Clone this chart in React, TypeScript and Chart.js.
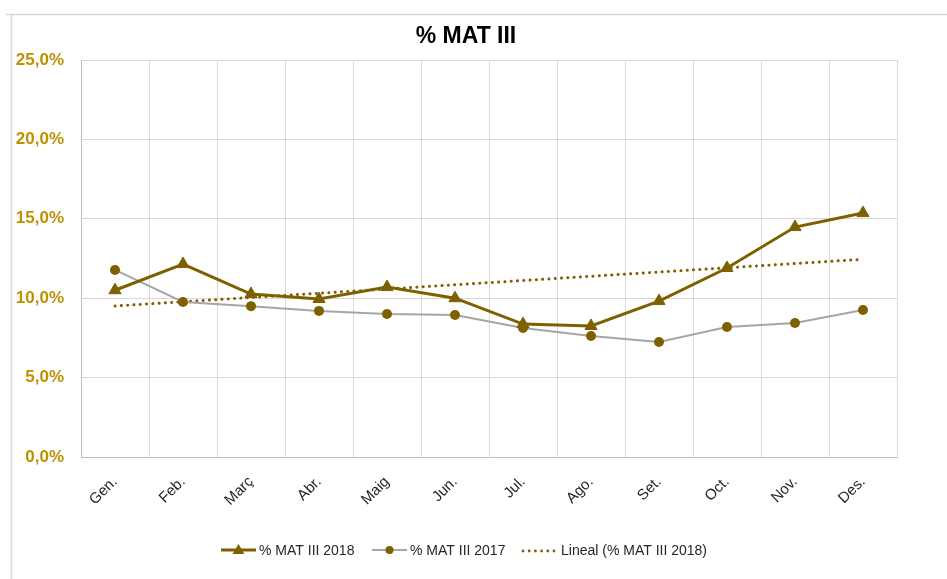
import React, { useEffect, useRef } from "react";
import { Chart, registerables } from "chart.js";

Chart.register(...registerables);

const categories = ["Gen.", "Feb.", "Març", "Abr.", "Maig", "Jun.", "Jul.", "Ago.", "Set.", "Oct.", "Nov.", "Des."];
const mat2018 = [10.5, 12.15, 10.26, 9.95, 10.7, 10.0, 8.37, 8.25, 9.82, 11.9, 14.48, 15.36];
const mat2017 = [11.78, 9.76, 9.5, 9.2, 9.0, 8.94, 8.12, 7.62, 7.24, 8.19, 8.44, 9.26];
const trend2018 = [9.51, null, null, null, null, null, null, null, null, null, null, 12.45];
const yTicks = [0, 5, 10, 15, 20, 25];
const titleText = "% MAT III";
const legendLabels = ["% MAT III 2018", "% MAT III 2017", "Lineal (% MAT III 2018)"];

const GOLD_DARK = "#7F6000";
const GOLD_TICK = "#BF9000";
const GRAY_LINE = "#A6A6A6";
const GRID = "#D9D9D9";

const decorPlugin = {
  id: "decor",
  beforeDraw(chart: any) {
    const ctx = chart.ctx;
    ctx.save();
    ctx.fillStyle = "#ffffff";
    ctx.fillRect(0, 0, chart.width, chart.height);
    ctx.strokeStyle = GRID;
    ctx.lineWidth = 1.5;
    ctx.beginPath();
    ctx.moveTo(6, 14.5);
    ctx.lineTo(chart.width, 14.5);
    ctx.moveTo(11.5, 14);
    ctx.lineTo(11.5, chart.height);
    ctx.stroke();
    ctx.restore();
  },
  afterDraw(chart: any) {
    const ctx = chart.ctx;
    ctx.save();
    // title
    ctx.fillStyle = "#000000";
    ctx.font = "bold 23px 'Liberation Sans', Arial, sans-serif";
    ctx.textAlign = "center";
    ctx.textBaseline = "middle";
    ctx.fillText(titleText, 466, 37);

    // legend
    const y = 550;
    ctx.font = "14px 'Liberation Sans', Arial, sans-serif";
    ctx.textAlign = "left";
    ctx.fillStyle = "#262626";
    // item 1
    ctx.strokeStyle = GOLD_DARK;
    ctx.lineWidth = 3;
    ctx.beginPath();
    ctx.moveTo(221, y);
    ctx.lineTo(256, y);
    ctx.stroke();
    ctx.fillStyle = GOLD_DARK;
    ctx.beginPath();
    ctx.moveTo(238.5, y - 6);
    ctx.lineTo(244.5, y + 4);
    ctx.lineTo(232.5, y + 4);
    ctx.closePath();
    ctx.fill();
    ctx.fillStyle = "#262626";
    ctx.fillText(legendLabels[0], 259, y + 1);
    // item 2
    ctx.strokeStyle = GRAY_LINE;
    ctx.lineWidth = 2;
    ctx.beginPath();
    ctx.moveTo(372, y);
    ctx.lineTo(407, y);
    ctx.stroke();
    ctx.fillStyle = GOLD_DARK;
    ctx.beginPath();
    ctx.arc(389.5, y, 4, 0, Math.PI * 2);
    ctx.fill();
    ctx.fillStyle = "#262626";
    ctx.fillText(legendLabels[1], 410, y + 1);
    // item 3
    ctx.fillStyle = GOLD_DARK;
    for (let i = 0; i < 6; i++) {
      ctx.beginPath();
      ctx.arc(523 + i * 6.2, y + 1, 1.4, 0, Math.PI * 2);
      ctx.fill();
    }
    ctx.fillStyle = "#262626";
    ctx.fillText(legendLabels[2], 561, y + 1);
    ctx.restore();
  },
};

export default function App() {
  const canvasRef = useRef<HTMLCanvasElement | null>(null);

  useEffect(() => {
    const canvas = canvasRef.current;
    if (!canvas) return;
    const chart = new Chart(canvas, {
      type: "line",
      data: {
        labels: categories,
        datasets: [
          {
            label: legendLabels[0],
            data: mat2018,
            borderColor: GOLD_DARK,
            backgroundColor: GOLD_DARK,
            borderWidth: 3,
            pointStyle: "triangle",
            pointRadius: 7,
            pointBorderWidth: 1,
            pointBackgroundColor: GOLD_DARK,
            pointBorderColor: GOLD_DARK,
            tension: 0,
          },
          {
            label: legendLabels[1],
            data: mat2017,
            borderColor: GRAY_LINE,
            backgroundColor: GOLD_DARK,
            borderWidth: 2,
            pointStyle: "circle",
            pointRadius: 5,
            pointBorderWidth: 0,
            pointBackgroundColor: GOLD_DARK,
            tension: 0,
          },
          {
            label: legendLabels[2],
            data: trend2018,
            borderColor: GOLD_DARK,
            borderWidth: 3,
            borderDash: [0.1, 6.2],
            borderCapStyle: "round",
            pointRadius: 0,
            spanGaps: true,
            tension: 0,
          },
        ],
      },
      options: {
        responsive: false,
        animation: false,
        devicePixelRatio: 1,
        layout: { padding: { left: 0, top: 60, right: 50, bottom: 0 } },
        plugins: {
          legend: { display: false },
          title: { display: false },
          tooltip: { enabled: false },
        },
        scales: {
          x: {
            type: "category",
            offset: true,
            grid: { color: GRID, lineWidth: 1, offset: true, drawTicks: false },
            border: { color: "#BFBFBF", width: 1 },
            ticks: {
              color: "#262626",
              font: { family: "'Liberation Sans', Arial, sans-serif", size: 15 },
              minRotation: 45,
              maxRotation: 45,
              padding: 16,
              autoSkip: false,
            },
            afterFit(scale: any) {
              scale.height = 122;
            },
          },
          y: {
            min: 0,
            max: 25,
            afterBuildTicks(scale: any) {
              scale.ticks = yTicks.map((v) => ({ value: v }));
            },
            grid: { color: GRID, lineWidth: 1, drawTicks: false },
            border: { color: "#BFBFBF", width: 1 },
            ticks: {
              color: GOLD_TICK,
              font: { family: "'Liberation Sans', Arial, sans-serif", size: 17, weight: "bold" },
              padding: 17,
              callback: (v: any) => Number(v).toFixed(1).replace(".", ",") + "%",
            },
            afterFit(scale: any) {
              scale.width = 81;
            },
          },
        },
      },
      plugins: [decorPlugin],
    } as any);
    return () => chart.destroy();
  }, []);

  return (
    <div style={{ position: "fixed", left: 0, top: 0, width: 947, height: 579, background: "#fff" }}>
      <canvas ref={canvasRef} width={947} height={579} style={{ display: "block", width: 947, height: 579 }} />
    </div>
  );
}
